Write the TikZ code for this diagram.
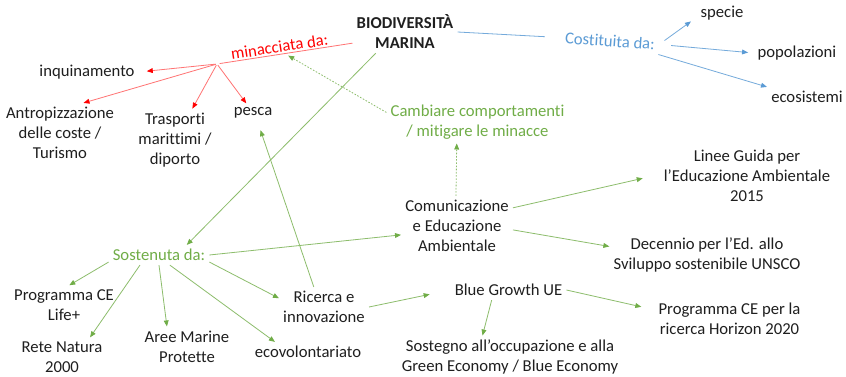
\documentclass[tikz,border=0pt]{standalone}
\usepackage{fontspec}
\setmainfont{Carlito}[Ligatures=NoCommon]
\usetikzlibrary{arrows.meta}
\definecolor{cgreen}{HTML}{70AD47}
\definecolor{cblue}{HTML}{5B9BD5}
\definecolor{cred}{HTML}{FF0000}
\definecolor{ctext}{HTML}{1F1F1F}
\begin{document}
\begin{tikzpicture}[x=0.75pt,y=-0.75pt,
  every node/.style={font=\fontsize{12.5}{15}\selectfont, inner sep=3pt, align=center, text=ctext},
  redline/.style={draw=cred!55, line width=0.6pt},
  redarr/.style={draw=cred!55, line width=0.6pt, -{Triangle[length=4.5pt,width=3.6pt,color=cred]}},
  greenarr/.style={draw=cgreen!80, line width=0.6pt, -{Triangle[length=4.5pt,width=3.6pt,color=cgreen]}},
  greendot/.style={draw=cgreen!80, line width=0.6pt, dash pattern=on 1.2pt off 1.2pt, -{Triangle[length=4.5pt,width=3.6pt,color=cgreen]}},
  blueline/.style={draw=cblue!85, line width=0.6pt},
  bluearr/.style={draw=cblue!85, line width=0.6pt, -{Triangle[length=4.5pt,width=3.6pt,color=cblue]}}]
\fill[white] (0,0) rectangle (846,377);
\useasboundingbox (0,0) rectangle (846,377);

% nodes
\node[font=\fontsize{12.5}{15}\selectfont\bfseries] (bio) at (405,32) {BIODIVERSITÀ\\MARINA};
\coordinate (m) at (217,64);
\node (inq) at (87,72) {inquinamento};
\node (antro) at (60,133) {Antropizzazione\\delle coste /\\Turismo};
\node (trasp) at (175,140) {Trasporti\\marittimi /\\diporto};
\node (pesca) at (253,113) {pesca};
\node[text=cgreen] (camb) at (477.5,122) {Cambiare comportamenti\\/ mitigare le minacce};
\node[text=cblue, rotate=-4] (cost) at (610,41) {Costituita da:};
\node (specie) at (722,13) {specie};
\node (popol) at (797,53) {popolazioni};
\node (ecosi) at (807,97) {ecosistemi};
\node (com) at (457,226) {Comunicazione\\e Educazione\\Ambientale};
\node (linee) at (747,176) {Linee Guida per\\l’Educazione Ambientale\\2015};
\node (dec) at (707,255) {Decennio per l’Ed. allo\\Sviluppo sostenibile UNSCO};
\node[text=cgreen] (sost) at (159,255) {Sostenuta da:};
\node (prog) at (64,305) {Programma CE\\Life+};
\node (rete) at (62,357) {Rete Natura\\2000};
\node (aree) at (187,346.5) {Aree Marine\\Protette};
\node (ecov) at (308,352) {ecovolontariato};
\node (ric) at (324,307) {Ricerca e\\innovazione};
\node (blue) at (508.5,290) {Blue Growth UE};
\node (hor) at (729.5,319) {Programma CE per la\\ricerca Horizon 2020};
\node (sosteg) at (510,357) {Sostegno all’occupazione e alla\\Green Economy / Blue Economy};

% red branch
\draw[redline, shorten <=2pt] (m) -- coordinate[pos=0.5] (mid)
  node[pos=0.47, sloped, above=0pt, text=cred, inner sep=1pt] (min) {minacciata da:} (bio.192);
\draw[redarr, shorten <=1pt, shorten >=6pt] (m) -- (inq.east);
\draw[redarr, shorten <=1pt] (m) -- (antro.52);
\draw[redarr, shorten <=1pt] (m) -- (trasp.61);
\draw[redarr, shorten <=1pt] (m) -- (pesca.125);

% blue branch
\draw[blueline, shorten >=12pt] (bio.east) -- (cost.west);
\draw[bluearr, shorten <=5pt, shorten >=5pt] (cost.east) -- (specie.190);
\draw[bluearr, shorten <=9pt, shorten >=4pt] (cost.east) -- (popol.west);
\draw[bluearr] (cost.south east) -- (ecosi.north west);

% green branch
\draw[greenarr] (bio.216) -- (sost.20);
\draw[greenarr] (sost.188) -- (prog.75);
\draw[greenarr] (sost.208) -- (rete.35);
\draw[greenarr] (sost.south) -- (aree.135);
\draw[greenarr] (sost.-43) -- (ecov.163);
\draw[greenarr] (sost.-8) -- (ric.169);
\draw[greenarr] (sost.east) -- (com.189);
\draw[greenarr, shorten >=6pt] (ric.117) -- (pesca.-63);
\draw[greenarr, shorten >=16pt] (ric.east) -- (blue.west);
\draw[greenarr] (blue.-149) -- (sosteg.142);
\draw[greenarr, shorten >=10pt] (blue.east) -- (hor.173);
\draw[greenarr, shorten >=13pt] (com.18) -- (linee.179);
\draw[greenarr] (com.-4) -- (dec.175);
\draw[greendot] (com.92) -- (camb.-134);
\draw[greendot, shorten >=3pt] (camb.174) -- (mid);
\end{tikzpicture}
\end{document}
